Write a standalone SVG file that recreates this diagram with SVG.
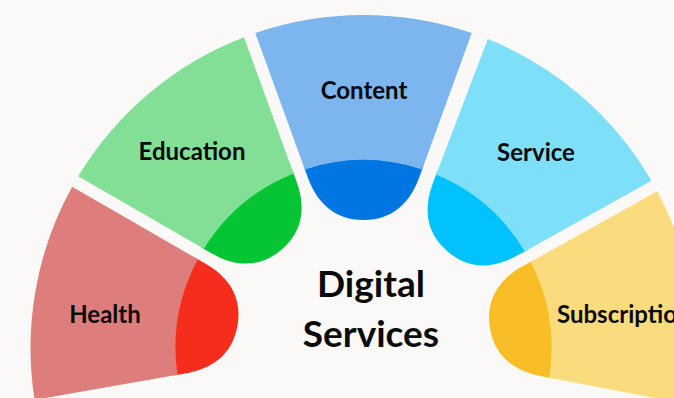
<svg xmlns="http://www.w3.org/2000/svg" xmlns:xlink="http://www.w3.org/1999/xlink" width="674" height="398" viewBox="0 0 674 398">
  <style>
    .lbl { font-family: Lato, "Noto Sans", "Liberation Sans", sans-serif; font-weight: 700; font-size: 24px; fill: #0a0a0a; text-anchor: middle; }
    .title { font-family: Lato, "Noto Sans", "Liberation Sans", sans-serif; font-weight: 700; font-size: 37px; fill: #0a0a0a; text-anchor: middle; }
  </style>
  <defs>
    <path id="petalLight" d="M255.27,33.1 A333,333 0 0 1 471.73,33.1 L422.12,169.4 A188,188 0 0 0 304.88,169.4 Z"/>
    <path id="petalCap" d="M423.49,165.6 L418.99,178 C410.44,201.49 393.5,220 363.5,220 C333.5,220 316.56,201.49 308.01,178 L303.51,165.6 A192,192 0 0 1 423.49,165.6 Z"/>
  </defs>
  <rect x="0" y="0" width="674" height="398" fill="#FAF9F8"/>
  <g id="connectors"/>
  <g id="health">
    <g transform="rotate(-80 363.5 348)">
      <use xlink:href="#petalCap" href="#petalCap" fill="#F62D1C"/>
      <use xlink:href="#petalLight" href="#petalLight" fill="#DD7E7C"/>
    </g>
    <text class="lbl" x="105" y="323">Health</text>
  </g>
  <g id="education">
    <g transform="rotate(-40 363.5 348)">
      <use xlink:href="#petalCap" href="#petalCap" fill="#05C632"/>
      <use xlink:href="#petalLight" href="#petalLight" fill="#82E096"/>
    </g>
    <text class="lbl" x="192" y="160">Education</text>
  </g>
  <g id="content">
    <use xlink:href="#petalCap" href="#petalCap" fill="#0076E3"/>
    <use xlink:href="#petalLight" href="#petalLight" fill="#7DB5EE"/>
    <text class="lbl" x="364" y="99">Content</text>
  </g>
  <g id="service">
    <g transform="rotate(40.9 363.5 348)">
      <use xlink:href="#petalCap" href="#petalCap" fill="#00C2FC"/>
      <use xlink:href="#petalLight" href="#petalLight" fill="#7EDFF9"/>
    </g>
    <text class="lbl" x="536" y="161">Service</text>
  </g>
  <g id="subscription">
    <g transform="rotate(80.9 363.5 348)">
      <use xlink:href="#petalCap" href="#petalCap" fill="#F9BD26"/>
      <use xlink:href="#petalLight" href="#petalLight" fill="#FADC7E"/>
    </g>
    <text class="lbl" x="557" y="323" style="text-anchor:start">Subscription</text>
  </g>
  <g id="title">
    <text class="title" x="371" y="297">Digital</text>
    <text class="title" x="371" y="347">Services</text>
  </g>
</svg>
